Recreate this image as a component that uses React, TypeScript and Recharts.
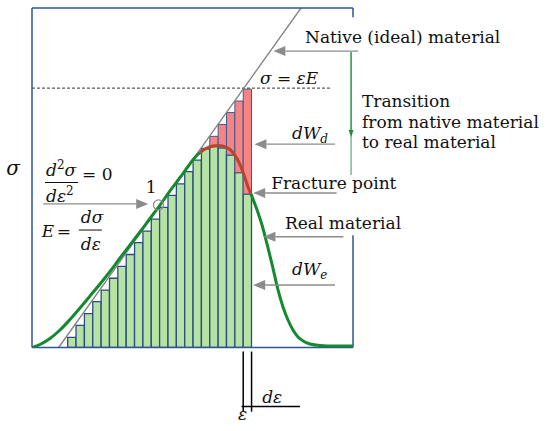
import { Bar, ComposedChart, Line, ReferenceDot, ReferenceLine, XAxis, YAxis } from 'recharts'

// strain ε and stress σ are both on a relative 0–100 scale
const barStrain = [12.42, 15.02, 17.63, 20.23, 22.84, 25.44, 28.04, 30.65, 33.25, 35.86, 38.46, 41.06, 43.67, 46.27, 48.88, 51.48, 54.08, 56.69, 59.29, 61.9, 64.5, 67.1]
const elasticPart = [3.0, 6.5, 10.0, 13.5, 16.9, 20.4, 23.9, 27.4, 30.9, 34.3, 37.8, 41.3, 44.8, 48.2, 51.8, 55.2, 58.5, 59.2, 58.8, 56.7, 51.5, 45.2]
const damagePart = [0, 0, 0, 0, 0, 0, 0, 0, 0, 0, 0, 0, 0, 0, 0, 0, 0.2, 3.0, 6.9, 12.5, 21.1, 30.9]

const idealStrain = [8.3, 83.8]
const idealStress = [0, 100]

const riseStrain = [0, 2.49, 5.61, 8.72, 11.84, 14.95, 18.07, 21.18, 24.3, 27.41, 30.53, 33.64, 36.76, 39.88, 42.99, 46.11, 48.6, 50.47, 52.34]
const riseStress = [0, 0.88, 2.65, 5.15, 8.25, 11.63, 15.17, 18.7, 22.39, 26.36, 30.19, 34.02, 38.0, 41.97, 46.1, 50.07, 53.31, 55.67, 57.44]
const damagedStrain = [52.34, 54.21, 56.07, 57.94, 59.81, 61.68, 63.86, 65.11, 66.36, 67.29, 68.22]
const damagedStress = [57.44, 58.62, 59.26, 59.5, 59.2, 58.32, 55.67, 53.17, 49.93, 47.28, 45.21]
const fallStrain = [68.22, 69.78, 71.65, 73.21, 74.77, 76.64, 78.19, 79.75, 81.31, 82.87, 84.74, 86.6, 89.72, 94.39, 100]
const fallStress = [45.21, 41.38, 36.08, 30.49, 24.59, 16.94, 11.93, 8.1, 5.15, 3.09, 1.77, 1.03, 0.59, 0.44, 0.44]

const ultimateStress = 76.4

const toPoints = (eps: number[], sig: number[]) => eps.map((e, i) => ({ eps: e, sigma: sig[i] }))

const bars = barStrain.map((e, i) => ({ eps: e, elastic: elasticPart[i], damage: damagePart[i] }))

const SERIF = '"DejaVu Serif", serif'
const BLUE = '#2F5597'
const GREY = '#8C8C8C'
const CURVE = '#148A2E'

function arrow(color: string, width = 1.4, head = 12, half = 5) {
  return (p: any) => {
    const { x1, y1, x2, y2 } = p
    const dx = x2 - x1
    const dy = y2 - y1
    const len = Math.hypot(dx, dy) || 1
    const ux = dx / len
    const uy = dy / len
    const bx = x2 - ux * head
    const by = y2 - uy * head
    return (
      <g>
        <line x1={x1} y1={y1} x2={bx} y2={by} stroke={color} strokeWidth={width} />
        <polygon points={`${x2},${y2} ${bx - uy * half},${by + ux * half} ${bx + uy * half},${by - ux * half}`} fill={color} />
      </g>
    )
  }
}

function note(key: string, x: number, y: number, content: React.ReactNode) {
  return (
    <ReferenceDot
      key={key}
      x={x}
      y={y}
      ifOverflow="visible"
      shape={(p: any) => <g transform={`translate(${p.cx},${p.cy})`}>{content}</g>}
    />
  )
}

const txt = { fontFamily: SERIF, fontSize: 17, fill: '#111' }
const math = { fontFamily: SERIF, fontSize: 17, fontStyle: 'italic' as const, fill: '#111' }

export default function App() {
  return (
    <div style={{ position: 'absolute', left: 0, top: 0, width: 550, height: 431, background: '#fff' }}>
      <ComposedChart width={550} height={431} data={bars} margin={{ top: 8, right: 197, bottom: 83.5, left: 32 }}>
        <XAxis type="number" dataKey="eps" domain={[0, 100]} hide allowDataOverflow />
        <XAxis xAxisId="bars" type="number" dataKey="eps" domain={[0, 100]} hide allowDataOverflow />
        <YAxis type="number" domain={[0, 100]} hide allowDataOverflow />

        <ReferenceLine segment={[{ x: 0, y: ultimateStress }, { x: 92.8, y: ultimateStress }]} stroke="#333" strokeDasharray="3 2" ifOverflow="visible" />

        <Line data={toPoints(idealStrain, idealStress)} dataKey="sigma" stroke="#808080" strokeWidth={1.3} dot={false} activeDot={false} isAnimationActive={false} />

        <Bar xAxisId="bars" dataKey="elastic" stackId="w" barSize={8.3} fill="#B6E3A2" stroke="#2B4C88" strokeWidth={1.3} isAnimationActive={false} />
        <Bar xAxisId="bars" dataKey="damage" stackId="w" barSize={8.3} fill="#F48584" stroke="#3E5A92" strokeWidth={1} isAnimationActive={false} />

        <ReferenceLine segment={[{ x: 0, y: 0 }, { x: 0, y: 100 }]} stroke={BLUE} strokeWidth={1.5} ifOverflow="visible" />
        <ReferenceLine segment={[{ x: 0, y: 100 }, { x: 100, y: 100 }]} stroke={BLUE} strokeWidth={1.5} ifOverflow="visible" />
        <ReferenceLine segment={[{ x: 0, y: 0 }, { x: 100, y: 0 }]} stroke={BLUE} strokeWidth={1.5} ifOverflow="visible" />
        <ReferenceLine segment={[{ x: 100, y: 100 }, { x: 100, y: 97.3 }]} stroke={BLUE} strokeWidth={1.5} ifOverflow="visible" />
        <ReferenceLine segment={[{ x: 100, y: 33.1 }, { x: 100, y: 0 }]} stroke={BLUE} strokeWidth={1.5} ifOverflow="visible" />

        <Line data={toPoints(riseStrain, riseStress)} dataKey="sigma" type="monotone" stroke={CURVE} strokeWidth={3} dot={false} activeDot={false} isAnimationActive={false} />
        <Line data={toPoints(damagedStrain, damagedStress)} dataKey="sigma" type="monotone" stroke="#B8452C" strokeWidth={3} dot={false} activeDot={false} isAnimationActive={false} />
        <Line data={toPoints(fallStrain, fallStress)} dataKey="sigma" type="monotone" stroke={CURVE} strokeWidth={3} dot={false} activeDot={false} isAnimationActive={false} />

        {/* annotation arrows */}
        <ReferenceLine segment={[{ x: 101.6, y: 87.3 }, { x: 75.2, y: 87.3 }]} ifOverflow="visible" shape={arrow(GREY)} />
        <ReferenceLine segment={[{ x: 94.4, y: 59.9 }, { x: 69.3, y: 59.9 }]} ifOverflow="visible" shape={arrow(GREY)} />
        <ReferenceLine segment={[{ x: 94.9, y: 45.5 }, { x: 68.9, y: 45.5 }]} ifOverflow="visible" shape={arrow(GREY)} />
        <ReferenceLine segment={[{ x: 97.0, y: 32.6 }, { x: 72.1, y: 32.6 }]} ifOverflow="visible" shape={arrow(GREY)} />
        <ReferenceLine segment={[{ x: 94.4, y: 18.4 }, { x: 68.9, y: 18.4 }]} ifOverflow="visible" shape={arrow(GREY)} />
        <ReferenceLine segment={[{ x: 3.5, y: 42.3 }, { x: 36.2, y: 42.3 }]} ifOverflow="visible" shape={arrow(GREY)} />
        <ReferenceLine segment={[{ x: 99.4, y: 87.0 }, { x: 99.4, y: 50.8 }]} stroke="#3A9A55" strokeWidth={1} ifOverflow="visible" />
        <ReferenceLine segment={[{ x: 99.4, y: 87.0 }, { x: 99.4, y: 62.0 }]} ifOverflow="visible" shape={arrow('#1E8C3A', 1, 7, 2.5)} />

        <ReferenceDot x={39.4} y={42.0} r={5} fill="none" stroke={GREY} strokeWidth={1.3} ifOverflow="visible" />

        {/* dε marker below the axis */}
        <ReferenceLine segment={[{ x: 65.8, y: -1.2 }, { x: 65.8, y: -18.9 }]} stroke="#000" strokeWidth={1.5} ifOverflow="visible" />
        <ReferenceLine segment={[{ x: 68.4, y: -1.2 }, { x: 68.4, y: -18.9 }]} stroke="#000" strokeWidth={1.5} ifOverflow="visible" />
        <ReferenceLine segment={[{ x: 65.3, y: -17.4 }, { x: 83.5, y: -17.4 }]} stroke="#000" strokeWidth={1.5} ifOverflow="visible" />

        {note('native', 85.05, 89.6, <text {...txt}>Native (ideal) material</text>)}
        {note('law', 71.0, 77.6, (
          <text {...math}>σ <tspan fontStyle="normal">=</tspan> εE</text>
        ))}
        {note('t1', 102.8, 70.9, <text {...txt}>Transition</text>)}
        {note('t2', 102.8, 64.8, <text {...txt}>from native material</text>)}
        {note('t3', 102.8, 58.8, <text {...txt}>to real material</text>)}
        {note('wd', 81.0, 61.3, (
          <text {...math}>dW<tspan fontSize={12} dy={4}>d</tspan></text>
        ))}
        {note('fr', 74.5, 46.7, <text {...txt}>Fracture point</text>)}
        {note('real', 78.8, 34.9, <text {...txt}>Real material</text>)}
        {note('we', 81.0, 21.4, (
          <text {...math}>dW<tspan fontSize={12} dy={4}>e</tspan></text>
        ))}
        {note('sig', -5.9, 50.9, <text {...math} fontSize={20} textAnchor="middle">σ</text>)}
        {note('one', 37.1, 45.5, <text {...txt} textAnchor="middle">1</text>)}
        {note('d2', 4.05, 48.6, (
          <g>
            <text {...math} x={1} y={-7}>d<tspan fontSize={12} fontStyle="normal" dy={-7}>2</tspan><tspan dy={7}>σ</tspan></text>
            <line x1={0} x2={33} y1={0} y2={0} stroke="#111" strokeWidth={1} />
            <text {...math} x={1} y={19}>dε<tspan fontSize={12} fontStyle="normal" dy={-7}>2</tspan></text>
            <text {...txt} x={37} y={-3}>= 0</text>
          </g>
        ))}
        {note('e', 14.6, 34.6, (
          <g>
            <text {...math} x={-37} y={7}>E</text>
            <text {...txt} x={-22} y={7}>=</text>
            <text {...math} x={2} y={-7}>dσ</text>
            <line x1={0} x2={23} y1={0} y2={0} stroke="#111" strokeWidth={1} />
            <text {...math} x={2} y={20}>dε</text>
          </g>
        ))}
        {note('de', 71.7, -16.3, <text {...math}>dε</text>)}
        {note('eps', 65.6, -21.4, <text {...math} textAnchor="middle">ε</text>)}
      </ComposedChart>
    </div>
  )
}
